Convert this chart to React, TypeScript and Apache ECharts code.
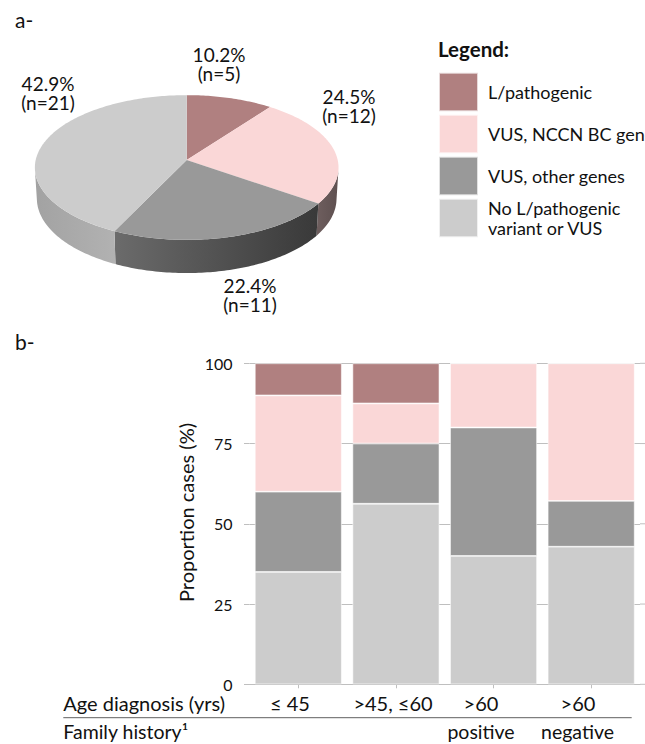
import React, { useEffect, useRef } from "react";
import * as echarts from "echarts";

// ---------- data ----------
const categories = [
  "L/pathogenic",
  "VUS, NCCN BC genes",
  "VUS, other genes",
  "No L/pathogenic\nvariant or VUS",
];
const pieCounts = [5, 12, 11, 21];

const ageGroups = ["≤ 45", ">45, ≤60", ">60", ">60"];
const familyHistory = ["", "", "positive", "negative"];

const pctLPathogenic = [10, 12.5, 0, 0];
const pctVusNccn = [30, 12.5, 20, 42.86];
const pctVusOther = [25, 18.75, 40, 14.28];
const pctNone = [35, 56.25, 40, 42.86];

const yTicks = [0, 25, 50, 75, 100];

// ---------- styles / layout ----------
const FONT = 'Lato, "Open Sans", sans-serif';
const colors = ["#b08080", "#fad7d7", "#999999", "#cccccc"];
const sideColors = [
  ["#7a5a5a", "#6a5050"],
  ["#6e5e5e", "#5e5050"],
  ["#6b6b6b", "#393939"],
  ["#a2a2a2", "#b2b2b2"],
];
const pieLabelPos = [
  [219, 64],
  [349, 106],
  [250, 295],
  [48, 93],
];
const ageLabelX = [290, 393, 481, 578];
const famLabelX = [0, 0, 481, 577.5];

const PIE = { cx: 186.7, cy: 160, F: 1283.5, D: 8.5, phi: (28.3 * Math.PI) / 180, h: 0.235 };

function proj(x: number, y: number, z: number) {
  const s = Math.sin(PIE.phi);
  const c = Math.cos(PIE.phi);
  const vy = y - PIE.D * s;
  const vz = z - PIE.D * c;
  const depth = -vy * s - vz * c;
  const up = vy * c - vz * s;
  return [PIE.cx + (PIE.F * x) / depth, PIE.cy - (PIE.F * up) / depth];
}
function rim(deg: number, y: number) {
  const t = (deg * Math.PI) / 180;
  return proj(Math.sin(t), y, -Math.cos(t));
}

const total = pieCounts.reduce((a, b) => a + b, 0);
const starts: number[] = [];
const ends: number[] = [];
{
  let acc = 0;
  pieCounts.forEach((v) => {
    starts.push((acc / total) * 360);
    acc += v;
    ends.push((acc / total) * 360);
  });
}

export default function App() {
  const ref = useRef<HTMLDivElement>(null);
  useEffect(() => {
    document.body.style.margin = "0";
    const chart = echarts.init(ref.current!, null, { renderer: "svg" });

    const visMin = (Math.acos(-1 / (PIE.D * Math.cos(PIE.phi))) * 180) / Math.PI;
    const visMax = 360 - visMin;

    const renderSide = (params: any) => {
      const i = params.dataIndex;
      const lo = Math.max(starts[i], visMin);
      const hi = Math.min(ends[i], visMax);
      if (lo >= hi) return { type: "group", children: [] };
      const pts: number[][] = [];
      for (let d = lo; d < hi; d += 1) pts.push(rim(d, 0));
      pts.push(rim(hi, 0));
      const bottom: number[][] = [];
      for (let d = lo; d < hi; d += 1) bottom.push(rim(d, -PIE.h));
      bottom.push(rim(hi, -PIE.h));
      const all = pts.concat(bottom.reverse());
      return {
        type: "polygon",
        shape: { points: all },
        style: {
          fill: new echarts.graphic.LinearGradient(0, 0, 1, 0, [
            { offset: 0, color: sideColors[i][0] },
            { offset: 1, color: sideColors[i][1] },
          ]),
        },
      };
    };

    const labelStyle = (text: string, x: number, y: number) => ({
      type: "text",
      style: {
        text,
        x,
        y,
        textAlign: "center",
        textVerticalAlign: "middle",
        align: "center",
        verticalAlign: "middle",
        fill: "#111",
        fontSize: 19,
        fontFamily: FONT,
      },
    });

    const renderTop = (params: any, api: any) => {
      const i = params.dataIndex;
      const v = api.value(0);
      const pts: number[][] = [proj(0, 0, 0)];
      for (let d = starts[i]; d < ends[i]; d += 1) pts.push(rim(d, 0));
      pts.push(rim(ends[i], 0));
      const [lx, ly] = pieLabelPos[i];
      return {
        type: "group",
        children: [
          { type: "polygon", shape: { points: pts }, style: { fill: colors[i] } },
          labelStyle(`${((v / total) * 100).toFixed(1)}%`, lx, ly - 9.75),
          labelStyle(`(n=${v})`, lx, ly + 9.75),
        ],
      };
    };

    const txt = (text: string, x: number, y: number, size: number, extra: any = {}) => ({
      type: "text",
      x,
      y,
      style: {
        text,
        fontSize: size,
        fontFamily: FONT,
        fill: "#111",
        textAlign: extra.align || "left",
        align: extra.align || "left",
        textVerticalAlign: "middle",
        verticalAlign: "middle",
        fontWeight: extra.weight || "normal",
        lineHeight: extra.lineHeight || undefined,
      },
      rotation: extra.rotation || 0,
    });

    const graphics: any[] = [
      txt("a-", 15, 19, 21),
      txt("b-", 15, 341, 21),
      txt("Legend:", 438, 49, 20.5, { weight: "bold" }),
      txt("Proportion cases (%)", 186, 512.5, 20, { align: "center", rotation: Math.PI / 2 }),
      txt("Age diagnosis (yrs)", 63.3, 703, 20),
      txt("Family history\u00b9", 63.3, 731.5, 19.5, { lineHeight: 16 }),
      {
        type: "line",
        shape: { x1: 63.3, y1: 717.7, x2: 631.7, y2: 717.7 },
        style: { stroke: "#606060", lineWidth: 1 },
      },
    ];
    ageGroups.forEach((g, i) => graphics.push(txt(g, ageLabelX[i], 703, 20, { align: "center" })));
    familyHistory.forEach((f, i) => {
      if (f) graphics.push(txt(f, famLabelX[i], 731.5, 19.5, { align: "center", lineHeight: 16 }));
    });

    const barSeriesData = [pctNone, pctVusOther, pctVusNccn, pctLPathogenic];
    const barSeriesIdx = [3, 2, 1, 0];

    const option: any = {
      animation: false,
      textStyle: { fontFamily: FONT },
      legend: {
        data: categories,
        orient: "vertical",
        left: 438,
        top: 71.7,
        padding: 0,
        itemWidth: 39,
        itemHeight: 38.5,
        itemGap: 1.5,
        icon: "rect",
        selectedMode: false,
        textStyle: {
          fontSize: 18,
          color: "#111",
          fontFamily: FONT,
          lineHeight: 20,
          padding: [0, 0, 0, 5],
        },
      },
      grid: { left: 249.5, top: 363.3, width: 390.5, height: 321 },
      xAxis: {
        type: "category",
        data: ageGroups.map((g, i) => (familyHistory[i] ? g + " " + familyHistory[i] : g)),
        axisLine: { show: true, lineStyle: { color: "#bfbfbf" } },
        axisTick: { show: true, alignWithLabel: true, length: 4, lineStyle: { color: "#bfbfbf" } },
        axisLabel: { show: false },
      },
      yAxis: {
        type: "value",
        min: 0,
        max: 100,
        interval: 25,
        axisLine: { show: false },
        axisTick: { show: true, length: 5.5, lineStyle: { color: "#bfbfbf" } },
        splitLine: { show: true, lineStyle: { color: "#bfbfbf", width: 1 } },
        axisLabel: { fontSize: 16, color: "#111", margin: 17, fontFamily: FONT },
      },
      series: [
        ...barSeriesData.map((d, k) => ({
          type: "bar",
          name: categories[barSeriesIdx[k]],
          stack: "all",
          data: d,
          barWidth: 87,
          itemStyle: {
            color: colors[barSeriesIdx[k]],
            borderColor: "rgba(255,255,255,0.7)",
            borderWidth: 0.8,
          },
        })),
        {
          type: "custom",
          name: "pieSide",
          coordinateSystem: "none",
          renderItem: renderSide,
          data: pieCounts,
          clip: false,
          z: 1,
        },
        {
          type: "custom",
          name: "pieTop",
          coordinateSystem: "none",
          renderItem: renderTop,
          data: pieCounts,
          clip: false,
          z: 2,
        },
      ],
      graphic: graphics,
    };
    chart.setOption(option);

    // extend gridlines to the right page edge
    const ext = yTicks.map((v) => {
      const y = chart.convertToPixel({ yAxisIndex: 0 }, v) as number;
      return {
        type: "line",
        shape: { x1: 640, y1: y, x2: 645, y2: y },
        style: { stroke: "#bfbfbf", lineWidth: 1 },
      };
    });
    chart.setOption({ graphic: graphics.concat(ext) });

    return () => chart.dispose();
  }, []);
  return <div ref={ref} style={{ width: 645, height: 744 }} />;
}
